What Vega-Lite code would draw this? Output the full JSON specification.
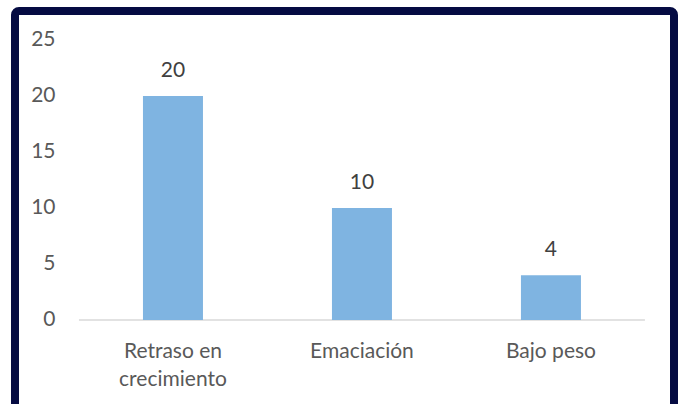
{
  "$schema": "https://vega.github.io/schema/vega-lite/v6.json",
  "width": 659,
  "height": 400,
  "autosize": {"type": "none"},
  "padding": {"left": 15, "top": 11, "right": 12, "bottom": 0},
  "background": "white",
  "config": {
    "view": {"stroke": "#050B42", "strokeWidth": 8, "cornerRadius": 4, "fill": "white"},
    "font": "Lato",
    "axis": {"grid": false, "domain": false, "ticks": false, "title": null, "labelFont": "Lato", "labelColor": "#595959", "labelFontSize": 21}
  },
  "datasets": {
    "bars": [
      {"categoria": "Retraso en crecimiento", "valor": 20},
      {"categoria": "Emaciación", "valor": 10},
      {"categoria": "Bajo peso", "valor": 4}
    ],
    "base": [{"inicio": 0, "fin": 3}]
  },
  "layer": [
    {
      "data": {"name": "base"},
      "mark": {"type": "rule", "color": "#D9D9D9", "strokeWidth": 1.5},
      "encoding": {
        "x": {"field": "inicio", "type": "quantitative", "scale": {"domain": [-0.339, 3.154], "nice": false, "zero": false}, "axis": null},
        "x2": {"field": "fin"},
        "y": {"datum": 0, "type": "quantitative", "scale": {"domain": [-8.125, 27.589], "nice": false, "zero": false}}
      }
    },
    {
      "data": {"name": "bars"},
      "encoding": {
        "x": {
          "field": "categoria", "type": "nominal", "sort": null,
          "scale": {"paddingInner": 0.6825, "paddingOuter": 0.5847, "align": 0.579},
          "axis": {
            "orient": "bottom", "offset": -91, "labelPadding": 20, "labelAngle": 0,
            "labelLineHeight": 28, "labelBaseline": "top",
            "labelExpr": "datum.label == 'Retraso en crecimiento' ? ['Retraso en', 'crecimiento'] : datum.label"
          }
        },
        "y": {
          "field": "valor", "type": "quantitative",
          "scale": {"domain": [-8.125, 27.589], "nice": false, "zero": false},
          "axis": {"orient": "left", "offset": -44, "labelPadding": 4, "values": [0, 5, 10, 15, 20, 25]}
        }
      },
      "layer": [
        {"mark": {"type": "bar", "color": "#7FB4E1"}},
        {
          "mark": {"type": "text", "color": "#404040", "fontSize": 21, "font": "Lato", "baseline": "middle", "dy": -25},
          "encoding": {"text": {"field": "valor", "type": "quantitative"}}
        }
      ]
    }
  ],
  "resolve": {"scale": {"x": "independent"}}
}
